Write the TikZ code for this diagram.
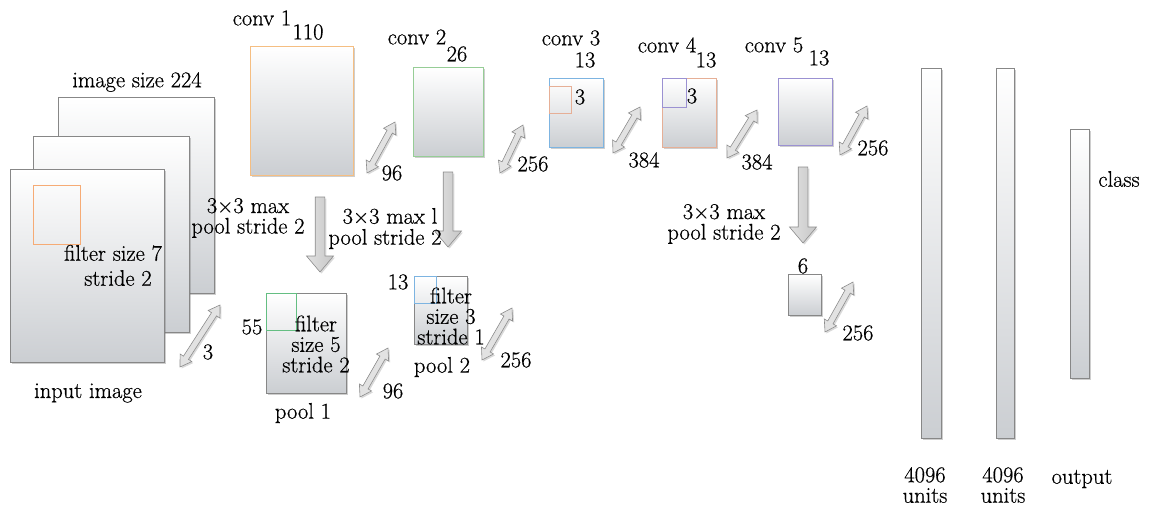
\documentclass[tikz,border=0pt]{standalone}
\usepackage{fontspec}
\setmainfont{Latin Modern Roman}[FakeBold=0.6]
\usetikzlibrary{calc,shadows}

\definecolor{boxbot}{RGB}{203,206,210}
\definecolor{boxedge}{RGB}{135,135,135}
\definecolor{arrowedge}{RGB}{140,140,140}
\definecolor{arrowfill}{RGB}{226,226,226}
\definecolor{edgeorange}{RGB}{245,190,130}
\definecolor{edgesalmon}{RGB}{230,175,150}
\definecolor{edgegreen}{RGB}{150,205,150}
\definecolor{edgedkgreen}{RGB}{100,190,130}
\definecolor{edgeblue}{RGB}{125,180,225}
\definecolor{edgepurple}{RGB}{155,145,210}

\tikzset{
  fmap/.style={draw=#1, line width=0.8pt, top color=white, bottom color=boxbot,
    drop shadow={shadow xshift=2pt, shadow yshift=-2pt, opacity=0.35, fill=black!55},
    inner sep=0pt, anchor=north west},
  fmap/.default=boxedge,
  kernel/.style={draw=#1, line width=0.8pt, inner sep=0pt, anchor=north west},
  lbl/.style={font=\fontsize{22.5}{20.5}\selectfont, inner sep=0pt, align=center},
  dimarrow/.style={draw=arrowedge, fill=arrowfill, line width=0.6pt, line join=miter,
    drop shadow={shadow xshift=1.5pt, shadow yshift=-1.5pt, opacity=0.3, fill=black!50}},
  poolarrow/.style={draw=arrowedge, left color=arrowfill, right color=black!22, line width=0.6pt,
    drop shadow={shadow xshift=1.5pt, shadow yshift=-1.5pt, opacity=0.3, fill=black!50}}
}

% double-headed block arrow between two named coordinates
\newcommand\dimarr[2]{%
  \coordinate (pa) at ($(#1)!11pt!(#2)$);
  \coordinate (pb) at ($(#2)!11pt!(#1)$);
  \path[dimarrow] (#1) -- ($(pa)!7pt!90:(#2)$) -- ($(pa)!3pt!90:(#2)$)
    -- ($(pb)!3pt!-90:(#1)$) -- ($(pb)!7pt!-90:(#1)$) -- (#2)
    -- ($(pb)!7pt!90:(#1)$) -- ($(pb)!3pt!90:(#1)$)
    -- ($(pa)!3pt!-90:(#2)$) -- ($(pa)!7pt!-90:(#2)$) -- cycle;}

% single-headed block arrow (pooling step) from #1 to #2
\newcommand\poolarr[2]{%
  \coordinate (ph) at ($(#2)!16pt!(#1)$);
  \path[poolarrow] ($(#1)!4.8pt!90:(#2)$) -- ($(ph)!4.8pt!-90:(#1)$)
    -- ($(ph)!13.5pt!-90:(#1)$) -- (#2) -- ($(ph)!13.5pt!90:(#1)$)
    -- ($(ph)!4.8pt!90:(#1)$) -- ($(#1)!4.8pt!-90:(#2)$) -- cycle;}

\begin{document}
\begin{tikzpicture}[x=1pt, y=-1pt]
\useasboundingbox (0,0) rectangle (1155,507);

% input image: three channels
\node[fmap, minimum width=156pt, minimum height=196pt] (in3) at (58,97) {};
\node[fmap, minimum width=156pt, minimum height=196pt] (in2) at (33,136) {};
\node[fmap, minimum width=154pt, minimum height=193pt] (in1) at (10,169) {};
\node[kernel=edgeorange!90!red, minimum width=47pt, minimum height=59pt] (k1) at (33,185) {};

% convolution layers
\node[fmap=edgeorange, minimum width=103pt, minimum height=129pt] (c1) at (250,46) {};
\node[fmap=edgegreen, minimum width=70pt, minimum height=89pt] (c2) at (413,67) {};
\node[fmap=edgeblue, minimum width=54pt, minimum height=69pt] (c3) at (549,78) {};
\node[kernel=edgesalmon, minimum width=22pt, minimum height=27pt] (k3) at (549,86) {};
\node[fmap=edgesalmon, minimum width=54pt, minimum height=69pt] (c4) at (662,78) {};
\node[kernel=edgepurple, minimum width=24pt, minimum height=29pt] (k4) at (662,78) {};
\node[fmap=edgepurple, minimum width=54pt, minimum height=67pt] (c5) at (778,78) {};

% pooling layers
\node[fmap, minimum width=80pt, minimum height=100pt] (p1) at (266,293) {};
\node[kernel=edgedkgreen, minimum width=30pt, minimum height=37pt] (kp1) at (266,293) {};
\node[fmap, minimum width=53pt, minimum height=68pt] (p2) at (414,276) {};
\node[kernel=edgeblue, minimum width=22pt, minimum height=27pt] (kp2) at (414,276) {};
\node[fmap, minimum width=33pt, minimum height=41pt] (p5) at (788,274) {};

% fully connected layers and output
\node[fmap, minimum width=20pt, minimum height=370pt] (fc1) at (921,68) {};
\node[fmap, minimum width=18pt, minimum height=370pt] (fc2) at (996,68) {};
\node[fmap, minimum width=19pt, minimum height=249pt] (out) at (1070,129) {};

% depth arrows
\coordinate (d0a) at (180,367); \coordinate (d0b) at (220,305);
\coordinate (d1a) at (367,173); \coordinate (d1b) at (395,122);
\coordinate (d2a) at (500,173); \coordinate (d2b) at (523,125);
\coordinate (d3a) at (613,153); \coordinate (d3b) at (640,107);
\coordinate (d4a) at (727,158); \coordinate (d4b) at (757,110);
\coordinate (d5a) at (840,155); \coordinate (d5b) at (867,106);
\coordinate (e1a) at (360,397); \coordinate (e1b) at (388,348);
\coordinate (e2a) at (482,360); \coordinate (e2b) at (512,308);
\coordinate (e5a) at (825,332); \coordinate (e5b) at (853,282);
\dimarr{d0a}{d0b}
\dimarr{d1a}{d1b}
\dimarr{d2a}{d2b}
\dimarr{d3a}{d3b}
\dimarr{d4a}{d4b}
\dimarr{d5a}{d5b}
\dimarr{e1a}{e1b}
\dimarr{e2a}{e2b}
\dimarr{e5a}{e5b}

% pooling arrows
\coordinate (q1a) at (320,197); \coordinate (q1b) at (320,272);
\coordinate (q2a) at (448,172); \coordinate (q2b) at (448,247);
\coordinate (q5a) at (803,167); \coordinate (q5b) at (803,243);
\poolarr{q1a}{q1b}
\poolarr{q2a}{q2b}
\poolarr{q5a}{q5b}

% labels
\node[lbl] (t-size) at (137,82) {image size 224};
\node[lbl] (t-f7) at (113,253) {filter size 7};
\node[lbl] (t-s7) at (118,278) {stride 2};
\node[lbl] (t-in) at (88,393) {input image};
\node[lbl] (t-d0) at (208,352) {3};

\node[lbl] (t-c1) at (262,18) {conv 1};
\node[lbl] (t-c1n) at (308,32) {110};
\node[lbl] (t-c2) at (417,37) {conv 2};
\node[lbl] (t-c2n) at (457,54) {26};
\node[lbl] (t-c3) at (571,38) {conv 3};
\node[lbl] (t-c3n) at (585,60) {13};
\node[lbl] (t-k3) at (580,97) {3};
\node[lbl] (t-c4) at (667,45) {conv 4};
\node[lbl] (t-c4n) at (706,60) {13};
\node[lbl] (t-k4) at (692,96) {3};
\node[lbl] (t-c5) at (774,45) {conv 5};
\node[lbl] (t-c5n) at (819,58) {13};

\node[lbl] (t-d1) at (392,173) {96};
\node[lbl] (t-d2) at (533,164) {256};
\node[lbl] (t-d3) at (644,160) {384};
\node[lbl] (t-d4) at (757,162) {384};
\node[lbl] (t-d5) at (873,148) {256};

\node[lbl] (t-mp1) at (248,218) {3×3 max\\pool stride 2};
\node[lbl] (t-mp2a) at (390,216) {3×3 max l};
\node[lbl] (t-mp2b) at (385,239) {pool stride 2};
\node[lbl] (t-mp5) at (724,224) {3×3 max\\pool stride 2};

\node[lbl] (t-p1n) at (252,327) {55};
\node[lbl] (t-p1f) at (316,344) {filter\\size 5\\stride 2};
\node[lbl] (t-p1) at (303,413) {pool 1};
\node[lbl] (t-e1) at (393,391) {96};

\node[lbl] (t-p2n) at (398,282) {13};
\node[lbl] (t-p2f) at (451,316) {filter\\size 3\\stride 1};
\node[lbl] (t-p2) at (442,367) {pool 2};
\node[lbl] (t-e2) at (516,360) {256};

\node[lbl] (t-p5n) at (803,266) {6};
\node[lbl] (t-e5) at (858,333) {256};

\node[lbl] (t-cls) at (1119,179) {class};
\node[lbl] (t-fc1) at (925,485) {4096\\units};
\node[lbl] (t-fc2) at (1003,485) {4096\\units};
\node[lbl] (t-out) at (1082,479) {output};
\end{tikzpicture}
\end{document}
